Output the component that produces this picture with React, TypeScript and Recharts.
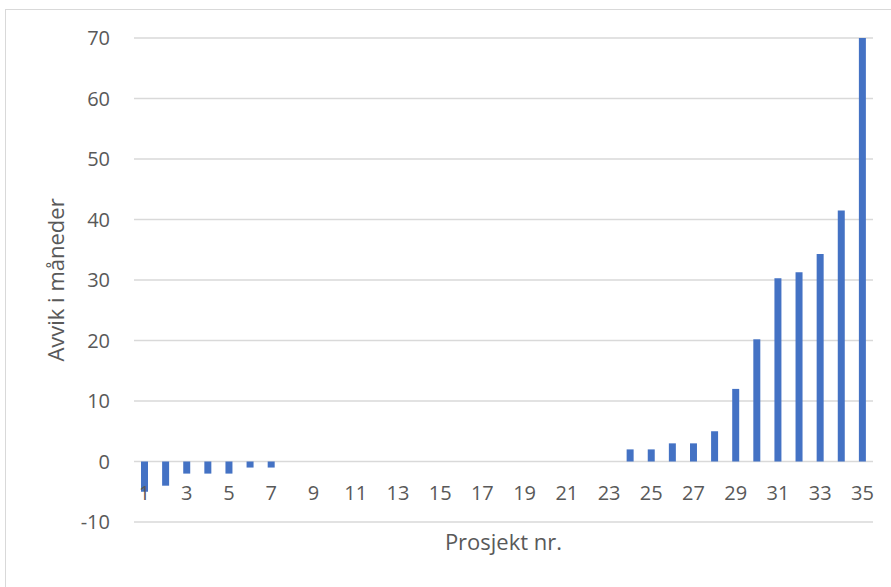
import { BarChart, Bar, XAxis, YAxis, CartesianGrid } from 'recharts'

// prosjekt nr. 1..35 og avvik i måneder
const prosjekter = [
  1, 2, 3, 4, 5, 6, 7, 8, 9, 10, 11, 12, 13, 14, 15, 16, 17, 18,
  19, 20, 21, 22, 23, 24, 25, 26, 27, 28, 29, 30, 31, 32, 33, 34, 35,
]
const avvik = [
  -5, -4, -2, -2, -2, -1, -1, 0, 0, 0, 0, 0, 0, 0, 0, 0, 0, 0,
  0, 0, 0, 0, 0, 2, 2, 3, 3, 5, 12, 20.2, 30.3, 31.3, 34.3, 41.5, 70,
]
const yTicks = [-10, 0, 10, 20, 30, 40, 50, 60, 70]

const data = prosjekter.map((nr, i) => ({ nr, avvik: avvik[i] }))

const FONT = '"Open Sans", sans-serif'
const TXT = '#595959'

function XTick({ x, y, payload }: { x?: number; y?: number; payload?: { value: number } }) {
  return (
    <text x={x} y={(y ?? 0) - 22} textAnchor="middle" fill={TXT} fontSize={20} fontFamily={FONT}>
      {payload?.value}
    </text>
  )
}

export default function App() {
  return (
    <div style={{ position: 'absolute', left: 0, top: 0, width: 891, height: 587, overflow: 'hidden', background: '#fff' }}>
      <div style={{ position: 'absolute', left: 5, top: 9, width: 950, height: 650, border: '1px solid #d9d9d9', boxSizing: 'border-box' }} />
      <div style={{ position: 'absolute', left: 0, top: 0 }}>
        <BarChart width={891} height={587} data={data}
          margin={{ top: 38, right: 18, bottom: 0, left: 0 }} barSize={7}>
          <CartesianGrid vertical={false} stroke="#d9d9d9" strokeWidth={1.3} />
          <XAxis dataKey="nr" interval={1} axisLine={false} tickLine={false}
            tickSize={0} tickMargin={0} height={65} tick={<XTick />}
            label={{ value: 'Prosjekt nr.', position: 'insideBottom', offset: 37,
              fill: TXT, fontSize: 22, fontFamily: FONT }} />
          <YAxis domain={[-10, 70]} ticks={yTicks} width={134} axisLine={false} tickLine={false}
            tickSize={0} tickMargin={24} interval={0}
            tick={{ fill: TXT, fontSize: 20, fontFamily: FONT }}
            label={{ value: 'Avvik i måneder', angle: -90, position: 'insideLeft', offset: 56,
              fill: TXT, fontSize: 22, fontFamily: FONT, style: { textAnchor: 'middle' } }} />
          <Bar dataKey="avvik" fill="#4472c4" isAnimationActive={false} />
        </BarChart>
      </div>
    </div>
  )
}
